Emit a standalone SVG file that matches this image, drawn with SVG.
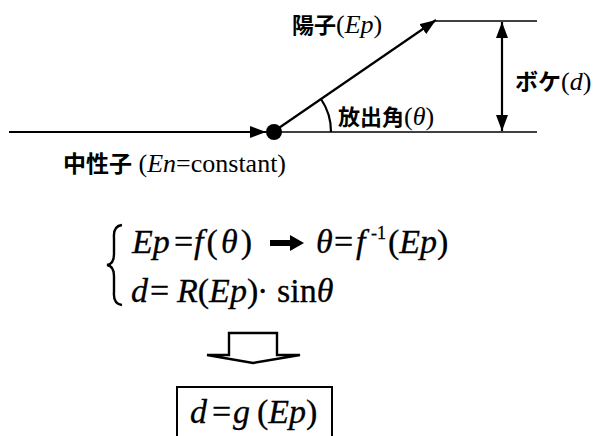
<svg xmlns="http://www.w3.org/2000/svg" width="597" height="436" viewBox="0 0 597 436">
<defs>
<style>
.ln{stroke:#000;stroke-width:2.2;fill:none}
.thin{stroke:#000;stroke-width:1.6;fill:none}
.jp{font-family:"Noto Sans CJK JP","Noto Sans",sans-serif;font-weight:bold;font-size:22px;fill:#000}
.rm{font-family:"Liberation Serif",serif;font-size:26px;font-weight:normal;fill:#000}
.it{font-style:italic}
.eq{font-family:"Liberation Serif",serif;font-size:34px;fill:#000;stroke:#000;stroke-width:0.3}
.i{font-style:italic}
</style>
<marker id="ah" viewBox="0 0 16 12" refX="16" refY="6" markerWidth="16" markerHeight="12" markerUnits="userSpaceOnUse" orient="auto">
<path d="M0,0 L16,6 L0,12 Z" fill="#000"/>
</marker>
<marker id="ahs" viewBox="0 0 16 12" refX="16" refY="6" markerWidth="16" markerHeight="12" markerUnits="userSpaceOnUse" orient="auto-start-reverse">
<path d="M0,0 L16,6 L0,12 Z" fill="#000"/>
</marker>
</defs>
<rect width="597" height="436" fill="#fff"/>

<g id="connectors">
<line class="ln" x1="9" y1="132" x2="266" y2="132" marker-end="url(#ah)"/>
<line class="ln" x1="273" y1="132" x2="436" y2="20" marker-end="url(#ah)"/>
<line class="thin" x1="436" y1="21" x2="537" y2="21"/>
<line class="thin" x1="281" y1="132" x2="537" y2="132"/>
<line class="ln" x1="502" y1="22" x2="502" y2="131" marker-start="url(#ahs)" marker-end="url(#ah)"/>
<path class="ln" d="M 321 99 A 58 58 0 0 1 331 132"/>
</g>

<g id="collision">
<circle cx="274" cy="132" r="8" fill="#000"/>
</g>

<g id="proton-label">
<text x="292" y="33"><tspan class="jp">陽子</tspan><tspan class="rm">(</tspan><tspan class="rm it">Ep</tspan><tspan class="rm">)</tspan></text>
</g>

<g id="blur-label">
<text x="515" y="90"><tspan class="jp" style="font-size:23px">ボケ</tspan><tspan class="rm">(</tspan><tspan class="rm it">d</tspan><tspan class="rm">)</tspan></text>
</g>

<g id="angle-label">
<text x="338" y="125"><tspan class="jp">放出角</tspan><tspan class="rm">(</tspan><tspan class="rm it">θ</tspan><tspan class="rm">)</tspan></text>
</g>

<g id="neutron-label">
<text x="63" y="172"><tspan class="jp" style="font-size:23px">中性子</tspan><tspan class="rm"> (</tspan><tspan class="rm it">En</tspan><tspan class="rm">=constant)</tspan></text>
</g>

<g id="equations">
<path d="M122,225 Q113,226 114,238 L114,254 Q114,264 107,265 Q114,266 114,276 L114,292 Q113,304 122,305" stroke="#000" stroke-width="2.4" fill="none"/>
<g class="eq">
<text class="i" x="132" y="253">Ep</text>
<text x="174" y="253">=</text>
<text x="194" y="253" textLength="58" lengthAdjust="spacing"><tspan class="i">f</tspan>(<tspan class="i">θ</tspan>)</text>
<text class="i" x="316" y="253">θ</text>
<text x="334" y="253">=</text>
<text class="i" x="356" y="253">f</text>
<text x="371" y="239" style="font-size:18px">-1</text>
<text x="388" y="253">(<tspan class="i">Ep</tspan>)</text>

<text class="i" x="131" y="302">d</text>
<text x="150" y="302">=</text>
<text x="177" y="302"><tspan class="i">R</tspan>(<tspan class="i">Ep</tspan>)</text>
<text x="257" y="302">·</text>
<text x="277" y="302">sin<tspan class="i">θ</tspan></text>
</g>
<path d="M270,240 L290,240 L290,235 L304,243 L290,251 L290,246 L270,246 Z" fill="#000"/>
</g>

<g id="down-arrow">
<path d="M229,333 L277,333 L277,355 L300,355 L253,363 L207,355 L229,355 Z" stroke="#000" stroke-width="2.4" fill="#fff" stroke-linejoin="miter"/>
</g>

<g id="result">
<rect x="177" y="387" width="155" height="60" stroke="#000" stroke-width="2" fill="#fff"/>
<g class="eq">
<text class="i" x="190" y="423">d</text>
<text x="212" y="423">=</text>
<text class="i" x="233" y="423">g</text>
<text x="257" y="423">(<tspan class="i">Ep</tspan>)</text>
</g>
</g>
</svg>
